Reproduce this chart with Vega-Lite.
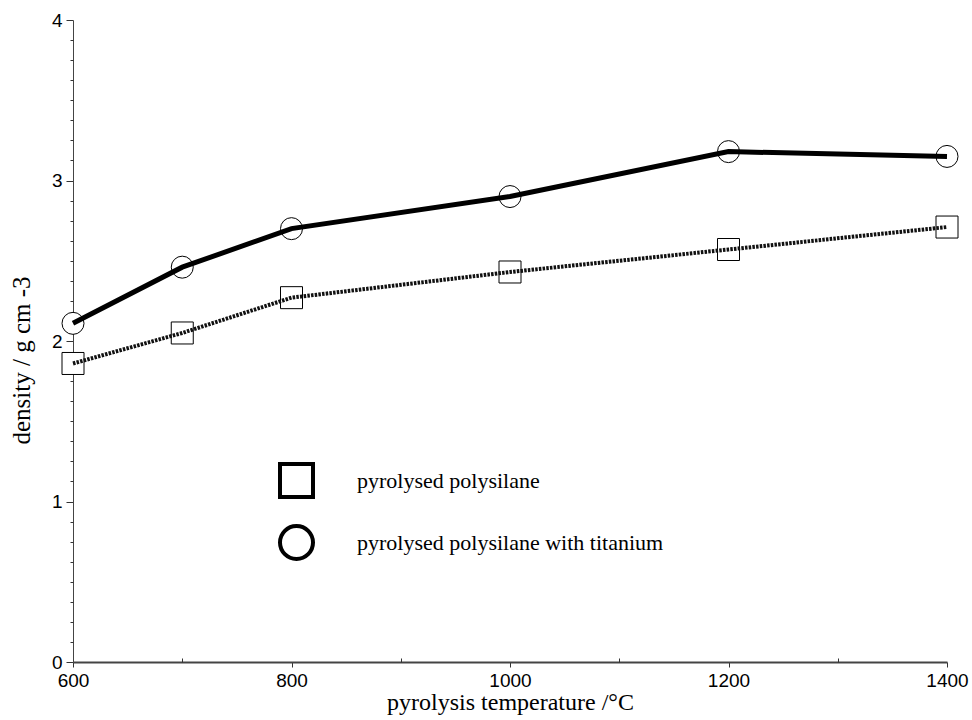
{
  "$schema": "https://vega.github.io/schema/vega-lite/v6.json",
  "width": 874,
  "height": 642,
  "autosize": {"type": "none"},
  "padding": {"left": 73, "top": 20, "right": 25, "bottom": 58},
  "background": "white",
  "config": {"view": {"stroke": null}},
  "data": {
    "values": [
      {"temp": 600, "density": 1.86, "series": "pyrolysed polysilane"},
      {"temp": 700, "density": 2.05, "series": "pyrolysed polysilane"},
      {"temp": 800, "density": 2.27, "series": "pyrolysed polysilane"},
      {"temp": 1000, "density": 2.43, "series": "pyrolysed polysilane"},
      {"temp": 1200, "density": 2.57, "series": "pyrolysed polysilane"},
      {"temp": 1400, "density": 2.71, "series": "pyrolysed polysilane"},
      {"temp": 600, "density": 2.11, "series": "pyrolysed polysilane with titanium"},
      {"temp": 700, "density": 2.46, "series": "pyrolysed polysilane with titanium"},
      {"temp": 800, "density": 2.70, "series": "pyrolysed polysilane with titanium"},
      {"temp": 1000, "density": 2.90, "series": "pyrolysed polysilane with titanium"},
      {"temp": 1200, "density": 3.18, "series": "pyrolysed polysilane with titanium"},
      {"temp": 1400, "density": 3.15, "series": "pyrolysed polysilane with titanium"}
    ]
  },
  "resolve": {"axis": {"x": "independent", "y": "independent"}},
  "layer": [
    {
      "mark": {"type": "point", "filled": false, "fill": "white", "stroke": "black", "strokeWidth": 1, "size": 484, "opacity": 1},
      "encoding": {
        "x": {
          "field": "temp", "type": "quantitative",
          "scale": {"domain": [600, 1400], "nice": false, "zero": false},
          "axis": {
            "orient": "bottom", "values": [600, 800, 1000, 1200, 1400], "format": "d", "labelFlush": false,
            "title": "pyrolysis temperature /°C", "titleFont": "Liberation Serif", "titleFontSize": 24, "titleFontWeight": "normal", "titleColor": "black", "titlePadding": 0,
            "labelFont": "Liberation Sans", "labelFontSize": 19, "labelColor": "black", "labelPadding": 4,
            "tickSize": 5, "tickColor": "#333", "tickWidth": 1,
            "domainColor": "#444", "domainWidth": 2, "grid": false
          }
        },
        "y": {
          "field": "density", "type": "quantitative",
          "scale": {"domain": [0, 4], "nice": false, "zero": true},
          "axis": {
            "orient": "left", "values": [0, 1, 2, 3, 4], "labelFlush": false,
            "title": "density / g cm -3", "titleFont": "Liberation Serif", "titleFontSize": 25, "titleFontWeight": "normal", "titleColor": "black", "titlePadding": 17, "titleY": 340,
            "labelFont": "Liberation Sans", "labelFontSize": 19, "labelColor": "black", "labelPadding": 4,
            "tickSize": 7, "tickColor": "#333", "tickWidth": 1,
            "domainColor": "#444", "domainWidth": 1, "grid": false
          }
        },
        "shape": {
          "field": "series", "type": "nominal",
          "scale": {
            "domain": ["pyrolysed polysilane", "pyrolysed polysilane with titanium"],
            "range": ["square", "circle"]
          },
          "legend": {
            "orient": "none", "legendX": 205, "legendY": 442, "title": null, "padding": 0,
            "symbolSize": 1089, "symbolStrokeWidth": 4,
            "labelFont": "Liberation Serif", "labelFontSize": 22, "labelColor": "black", "labelOffset": 42, "rowPadding": 13, "labelLimit": 500
          }
        }
      }
    },
    {
      "transform": [{"filter": "datum.series === 'pyrolysed polysilane with titanium'"}],
      "mark": {"type": "line", "color": "black", "strokeWidth": 5},
      "encoding": {
        "x": {
          "field": "temp", "type": "quantitative",
          "axis": {"orient": "bottom", "values": [700, 900, 1100, 1300], "labels": false, "title": null, "domain": false, "tickSize": -4, "tickColor": "#333", "grid": false}
        },
        "y": {
          "field": "density", "type": "quantitative",
          "axis": {"orient": "left", "values": [0.125, 0.25, 0.375, 0.5, 0.625, 0.75, 0.875, 1.125, 1.25, 1.375, 1.5, 1.625, 1.75, 1.875, 2.125, 2.25, 2.375, 2.5, 2.625, 2.75, 2.875, 3.125, 3.25, 3.375, 3.5, 3.625, 3.75, 3.875], "labels": false, "title": null, "domain": false, "tickSize": 3, "tickColor": "#333", "grid": false}
        }
      }
    },
    {
      "transform": [{"filter": "datum.series === 'pyrolysed polysilane'"}],
      "mark": {"type": "line", "color": "#111", "strokeWidth": 4, "strokeDash": [2.5, 1.2]},
      "encoding": {
        "x": {"field": "temp", "type": "quantitative", "axis": null},
        "y": {"field": "density", "type": "quantitative", "axis": null}
      }
    }
  ]
}
